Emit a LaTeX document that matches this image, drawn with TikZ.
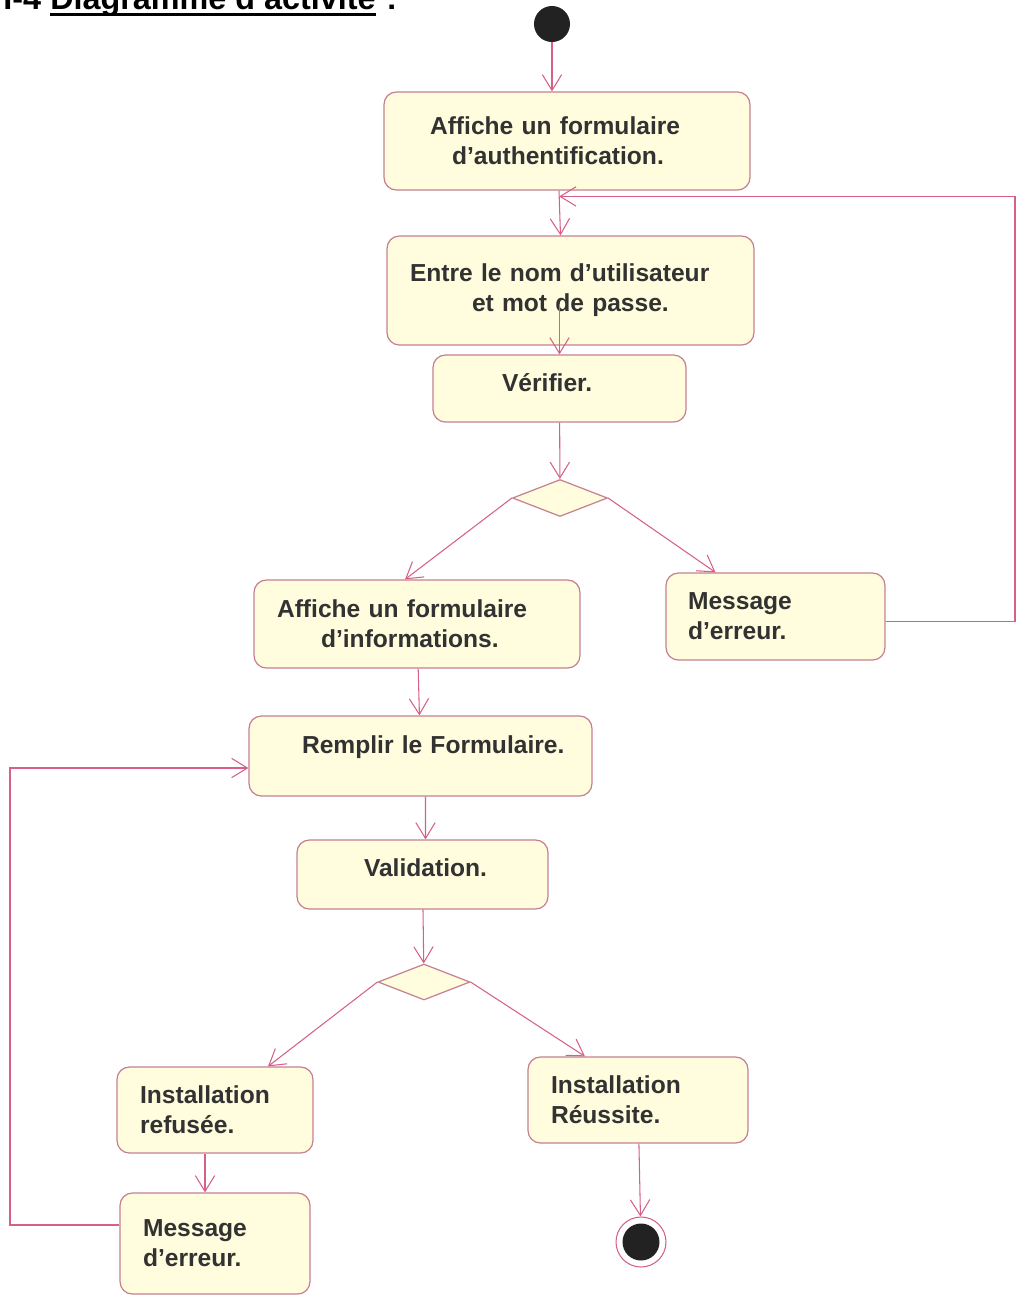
\documentclass[tikz,border=0pt]{standalone}
\usepackage{fontspec}
\setmainfont{Liberation Sans}
\usetikzlibrary{arrows.meta,shapes.geometric,calc}

\definecolor{boxfill}{RGB}{255,253,222}
\definecolor{boxline}{RGB}{198,128,145}
\definecolor{flowc}{RGB}{214,96,134}
\definecolor{inkc}{RGB}{50,50,50}
\definecolor{dotc}{RGB}{34,34,34}

\tikzset{
  act/.style={draw=boxline, fill=boxfill, line width=0.7pt, rounded corners=7pt,
    font=\fontsize{14}{17}\selectfont\bfseries, text=inkc, align=left, inner sep=0pt},
  decis/.style={diamond, draw=boxline, fill=boxfill, line width=0.7pt, inner sep=0pt},
  flow/.style={draw=flowc, line width=0.6pt, -{Straight Barb[length=9pt,width=11pt]}},
  head/.style={anchor=base west, inner sep=0pt, font=\fontsize{18.4}{22}\selectfont\bfseries, text=black},
}

\begin{document}
\begin{tikzpicture}[x=0.02cm, y=-0.02cm]
\useasboundingbox (0,0) rectangle (1018,1296);

% heading (runs off the top edge of the page)
\node[head] (num) at (3,9) {I-4};
\node[head] (ttl) at (50,9) {Diagramme d'activité};
\node[head, xshift=0.2cm] (colon) at (ttl.base east) {:};
\draw[black, line width=1.4pt] ([yshift=-0.11cm]ttl.base west) -- ([yshift=-0.11cm]ttl.base east);

% initial node
\node[circle, fill=dotc, minimum size=0.72cm, inner sep=0pt] (start) at (552,24) {};

% activities
\node[act, text width=7.32cm, minimum height=1.96cm] (auth) at (567,141)
  {\hspace*{0.92cm}Affiche un formulaire\\\hspace*{1.36cm}d'authentification.};
\node[act, text width=7.34cm, minimum height=2.18cm] (saisie) at (570.5,290.5)
  {\hspace*{0.46cm}Entre le nom d'utilisateur\\\hspace*{1.7cm}et mot de passe.};
\node[act, text width=5.06cm, minimum height=1.34cm, text height=0.36cm, text depth=0.24cm] (verif) at (559.5,388.5)
  {\hspace*{1.38cm}Vérifier.};
\node[decis, minimum width=1.9cm, minimum height=0.74cm] (d1) at (560,498) {};
\node[act, text width=6.52cm, minimum height=1.76cm] (infos) at (417,624)
  {\hspace*{0.46cm}Affiche un formulaire\\\hspace*{1.34cm}d'informations.};
\node[act, text width=4.38cm, minimum height=1.74cm] (err1) at (775.5,616.5)
  {\hspace*{0.44cm}Message\\\hspace*{0.44cm}d'erreur.};
\node[act, text width=6.86cm, minimum height=1.6cm, text height=0.37cm, text depth=0.46cm] (remplir) at (420.5,756)
  {\hspace*{1.06cm}Remplir le Formulaire.};
\node[act, text width=5.02cm, minimum height=1.38cm, text height=0.37cm, text depth=0.28cm] (valid) at (422.5,874.5)
  {\hspace*{1.34cm}Validation.};
\node[decis, minimum width=1.84cm, minimum height=0.72cm] (d2) at (424,982) {};
\node[act, text width=3.92cm, minimum height=1.72cm] (refus) at (215,1110)
  {\hspace*{0.46cm}Installation\\\hspace*{0.46cm}refusée.};
\node[act, text width=4.4cm, minimum height=1.72cm] (ok) at (638,1100)
  {\hspace*{0.46cm}Installation\\\hspace*{0.46cm}Réussite.};
\node[act, text width=3.8cm, minimum height=2.02cm] (err2) at (215,1243.5)
  {\hspace*{0.46cm}Message\\\hspace*{0.46cm}d'erreur.};

% final node
\node[circle, draw=flowc, line width=0.6pt, fill=white, minimum size=1.0cm, inner sep=0pt] (fin) at (641,1242) {};
\node[circle, fill=dotc, minimum size=0.74cm, inner sep=0pt] (finin) at (fin.center) {};

% points used by the return loops
\coordinate (a1) at ([xshift=-0.16cm]auth.south);
\coordinate (a2) at ([xshift=-0.2cm]saisie.north);
\coordinate (j1) at ($(a1)!0.13!(a2)$);
\coordinate (rt) at (1015,400);
\coordinate (lf) at (10,1000);

% transitions
\draw[flow] (start) -- (start |- auth.north);
\draw[flow] (a1) -- (a2);
\draw[flow] ($(verif.north)+(0,-50)$) -- (verif.north);
\draw[flow] (verif) -- (d1);
\draw[flow] (d1.west) -- ([xshift=-0.24cm]infos.north);
\draw[flow] (d1.east) -- ([xshift=-1.2cm]err1.north);
\draw[flow] ([yshift=-0.1cm]err1.east) -| (rt) |- (j1);
\draw[flow] (infos) -- (remplir);
\draw[flow] ([xshift=0.1cm]remplir.south) -- ([xshift=0.06cm]valid.north);
\draw[flow] (valid) -- (d2);
\draw[flow] (d2.west) -- ([xshift=1.06cm]refus.north);
\draw[flow] (d2.east) -- ([xshift=-1.06cm]ok.north);
\draw[flow] ([xshift=-0.2cm]refus.south) -- ([xshift=-0.2cm]err2.north);
\draw[flow] ([yshift=0.37cm]err2.west) -| (lf) |- ([yshift=-0.24cm]remplir.west);
\draw[flow] (ok) -- (fin);
\end{tikzpicture}
\end{document}
